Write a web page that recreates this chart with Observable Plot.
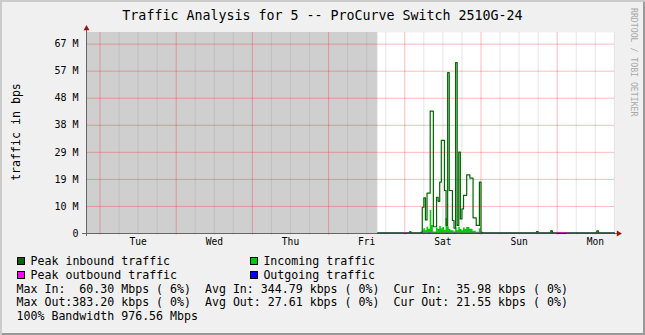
<!DOCTYPE html>
<html><head><meta charset="utf-8">
<script src="https://cdn.jsdelivr.net/npm/d3@7"></script>
<script src="https://cdn.jsdelivr.net/npm/@observablehq/plot@0.6"></script>
<style>
body{margin:0;background:#f0f0f0;}
#chart{position:relative;width:645px;height:335px;background:#f0f0f0;overflow:hidden;
  font-family:"DejaVu Sans Mono",monospace;color:#000;
  box-shadow:inset 2px 2px 0 #cbcbcb, inset -2px -2px 0 #999;}
#chart svg{position:absolute;left:0;top:0;}
.abs{position:absolute;white-space:pre;}
#title{left:0;width:645px;text-align:center;top:7px;font-size:13.3px;line-height:18px;}
#ylab{font-size:11.6px;line-height:14px;left:15.5px;top:131.7px;transform:translate(-50%,-50%) rotate(-90deg);}
#wm{font-size:8.2px;line-height:10px;left:629px;top:8px;writing-mode:vertical-rl;color:#a8a8a8;}
.row{font-size:11.6px;line-height:14px;}
.sw{position:absolute;width:6px;height:6px;border:1px solid #000;}
</style></head>
<body>
<div id="chart">
  <div id="title" class="abs"></div>
  <div id="ylab" class="abs"></div>
  <div id="wm" class="abs"></div>
  <div id="legend"></div>
</div>
<script>
// ---- texts ----
const titleText = "Traffic Analysis for 5 -- ProCurve Switch 2510G-24";
const yAxisTitle = "traffic in bps";
const watermark = "RRDTOOL / TOBI OETIKER";

// ---- axes (hours counted from Tue 00:00) ----
const windowStart = -4.25, windowEnd = 162.05;
const unknownEnd = 87.5;            // gray "no data" region ends Fri ~19:30
const yMax = 74.3;                  // in 10^6 bit/s
const dayLabels = ["Tue","Wed","Thu","Fri","Sat","Sun","Mon"];
const dayNoon   = [12, 36, 60, 84, 108, 132, 156];
const midnights = [0, 24, 48, 72, 96, 120, 144];
const yTicks      = [0, 10, 20, 30, 40, 50, 60, 70];
const yTickLabels = ["0","10 M","19 M","29 M","38 M","48 M","57 M","67 M"];

// ---- series (hours, 10^6 bit/s), step-after ----
const peakInHours = [87.5, 97.5, 98, 101, 101.5, 102, 102.5, 103, 104, 105, 106, 106.5, 107, 107.5, 108.5, 109, 109.5, 110, 111, 111.5, 112, 112.5, 113, 113.5, 114, 114.5, 115.5, 116.5, 117.5, 118.5, 119.5, 120, 120.5, 137.5, 138, 142, 142.5, 156.5, 157, 162.05];
const peakInVals  = [0.25, 0.6, 0.25, 0.4, 9.7, 13.2, 5.0, 14.9, 45.2, 2.5, 13.4, 11.9, 19.0, 34.4, 15.9, 3.0, 59.5, 15.9, 4.8, 2.0, 63.2, 3.0, 30.1, 5.4, 9.1, 14.1, 21.7, 20.5, 5.8, 3.0, 19.0, 0.4, 0.25, 0.7, 0.25, 1.0, 0.25, 1.0, 0.25, 0.25];

const inHours = [87.5, 97.5, 98, 101, 101.5, 102, 102.5, 103, 103.5, 104, 104.5, 105, 106, 106.5, 107, 107.5, 108, 108.5, 109, 109.5, 110, 110.5, 111.5, 112, 112.5, 113, 113.5, 114, 114.5, 115, 115.5, 116.5, 117.5, 118.5, 119.5, 120, 142, 142.5, 156.5, 157, 162.05];
const inVals  = [0.15, 0.5, 0.15, 0.3, 1.0, 1.8, 1.0, 2.3, 1.6, 8.5, 3.0, 0.6, 2.0, 1.5, 2.6, 1.8, 2.2, 1.2, 5.5, 2.5, 1.5, 1.0, 0.6, 2.0, 1.0, 2.3, 1.5, 1.0, 2.0, 1.5, 2.2, 1.6, 0.8, 0.5, 1.8, 0.2, 1.0, 0.15, 0.7, 0.15, 0.15];

const peakOutHours = [87.5, 96, 96.5, 103.5, 104, 109, 109.5, 111.5, 112, 119, 119.5, 144, 147, 162.05];
const peakOutVals  = [0.1, 0.35, 0.1, 0.38, 0.1, 0.3, 0.1, 0.35, 0.1, 0.3, 0.1, 0.4, 0.1, 0.1];

const outHours = [87.5, 104, 104.5, 112, 112.5, 162.05];
const outVals  = [0.03, 0.08, 0.03, 0.08, 0.03, 0.03];

// ---- legend & stats ----
const legendItems = [
  {label:"Peak inbound traffic",  color:"#006600", col:0, row:0},
  {label:"Incoming traffic",      color:"#00cc00", col:1, row:0},
  {label:"Peak outbound traffic", color:"#ff00ff", col:0, row:1},
  {label:"Outgoing traffic",      color:"#0000ff", col:1, row:1}
];
const statLines = [
  "Max In:  60.30 Mbps ( 6%)  Avg In: 344.79 kbps ( 0%)  Cur In:  35.98 kbps ( 0%)",
  "Max Out:383.20 kbps ( 0%)  Avg Out: 27.61 kbps ( 0%)  Cur Out: 21.55 kbps ( 0%)",
  "100% Bandwidth 976.56 Mbps"
];

const toRows = (hs, vs) => hs.map((h, i) => ({h, v: vs[i]}));
const peakIn = toRows(peakInHours, peakInVals);
const incoming = toRows(inHours, inVals);
const peakOut = toRows(peakOutHours, peakOutVals);
const outgoing = toRows(outHours, outVals);
const minorHours = d3.range(6, windowEnd, 6).filter(h => h % 24 !== 0);

const font = "DejaVu Sans Mono";
const plot = Plot.plot({
  width: 645, height: 255,
  marginLeft: 86, marginRight: 31, marginTop: 32, marginBottom: 22,
  x: {domain: [windowStart, windowEnd], axis: null},
  y: {domain: [0, yMax], axis: null},
  style: {background: "transparent", fontFamily: font, overflow: "visible"},
  marks: [
    Plot.frame({fill: "#ffffff", stroke: null}),
    Plot.rect([0], {x1: () => windowStart, x2: () => unknownEnd, y1: () => 0, y2: () => yMax, fill: "#cfcfcf"}),
    Plot.ruleX(minorHours, {stroke: "#808080", strokeOpacity: 0.2, insetBottom: -2}),
    Plot.ruleX(midnights, {stroke: "#ff0000", strokeOpacity: 0.27, insetBottom: -2}),
    Plot.ruleY(yTicks.filter(d => d > 0), {stroke: "#ff0000", strokeOpacity: 0.27}),
    Plot.areaY(incoming, {x: "h", y: "v", curve: "step-after", fill: "#00cc00"}),
    Plot.line(peakIn, {x: "h", y: "v", curve: "step-after", stroke: "#006600", strokeWidth: 1.2}),
    Plot.ruleY([0], {stroke: "#666", insetLeft: -4, insetRight: -4}),
    Plot.ruleX([windowStart], {stroke: "#666", insetTop: -2, insetBottom: -3}),
    Plot.line(outgoing, {x: "h", y: "v", curve: "step-after", stroke: "#0000ff", strokeWidth: 1}),
    Plot.line(peakOut, {x: "h", y: "v", curve: "step-after", stroke: "#ff00ff", strokeWidth: 1, strokeOpacity: 0.7}),
    Plot.dot([0], {frameAnchor: "top-left", symbol: "triangle", r: 2.2, fill: "#a01010", stroke: null, dy: -4}),
    Plot.dot([0], {frameAnchor: "bottom-right", symbol: "triangle", r: 2.2, fill: "#a01010", stroke: null, rotate: 90, dx: 4}),
    Plot.text(yTicks, {y: d => d, text: (d, i) => yTickLabels[i], frameAnchor: "left", dx: -8, textAnchor: "end", fontSize: 10, fill: "#000", fontFamily: font}),
    Plot.text(dayNoon, {x: d => d, text: (d, i) => dayLabels[i], frameAnchor: "bottom", dy: 11, fontSize: 9.6, fill: "#000", fontFamily: font})
  ]
});
document.getElementById("chart").appendChild(plot);

document.getElementById("title").textContent = titleText;
document.getElementById("ylab").textContent = yAxisTitle;
document.getElementById("wm").textContent = watermark;

const leg = document.getElementById("legend");
const rowCenters = [261, 274.5];
const colSwatch = [16.5, 250];
const colText = [30.5, 263.4];
legendItems.forEach(it => {
  const sw = document.createElement("div");
  sw.className = "sw";
  sw.style.background = it.color;
  sw.style.left = colSwatch[it.col] + "px";
  sw.style.top = (rowCenters[it.row] - 4) + "px";
  leg.appendChild(sw);
  const t = document.createElement("div");
  t.className = "abs row";
  t.textContent = it.label;
  t.style.left = colText[it.col] + "px";
  t.style.top = (rowCenters[it.row] - 7) + "px";
  leg.appendChild(t);
});
const statCenters = [288.5, 302, 316];
statLines.forEach((s, i) => {
  const t = document.createElement("div");
  t.className = "abs row";
  t.textContent = s;
  t.style.left = "16.5px";
  t.style.top = (statCenters[i] - 7) + "px";
  leg.appendChild(t);
});
</script>
</body></html>
